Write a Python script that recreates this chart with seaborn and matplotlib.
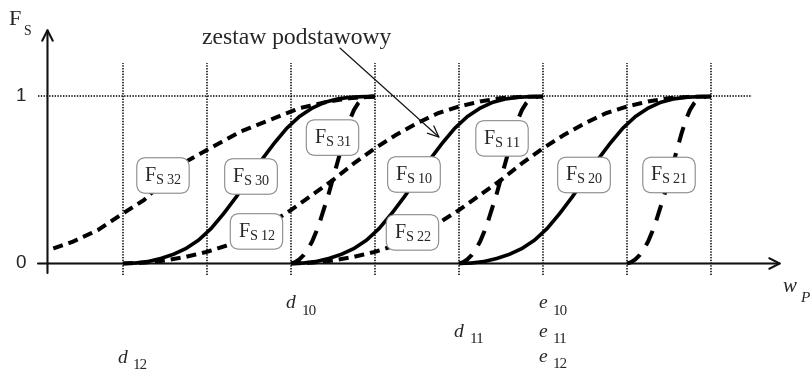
import matplotlib
matplotlib.use("Agg")
import matplotlib.pyplot as plt
import matplotlib.transforms as mtransforms
import numpy as np
import pandas as pd
import seaborn as sns

# ---------------------------------------------------------------- data
# dotted reference lines on the w_P axis
grid_x = [1, 2, 3, 4, 5, 6, 7, 8]

# shape of the distribution curves as a fraction t of their interval [d, e]
profile_t = [0.00, 0.05, 0.10, 0.15, 0.20, 0.25, 0.30, 0.35, 0.40, 0.45, 0.50,
             0.55, 0.60, 0.65, 0.70, 0.75, 0.80, 0.85, 0.90, 0.95, 1.00]
solid_y = [0.000, 0.003, 0.012, 0.030, 0.055, 0.090, 0.140, 0.210, 0.300, 0.400, 0.510,
           0.620, 0.720, 0.810, 0.880, 0.930, 0.965, 0.985, 0.995, 0.999, 1.000]
short_y = [0.000, 0.005, 0.018, 0.040, 0.070, 0.110, 0.170, 0.240, 0.320, 0.410, 0.500,
           0.600, 0.690, 0.770, 0.840, 0.900, 0.940, 0.970, 0.990, 0.998, 1.000]
long_y = [0.000, 0.008, 0.025, 0.050, 0.085, 0.130, 0.190, 0.260, 0.340, 0.420, 0.510,
          0.600, 0.690, 0.780, 0.860, 0.920, 0.960, 0.985, 0.995, 0.999, 1.000]

# solid curves: F_S30, F_S10, F_S20
solid_names = ["F_S30", "F_S10", "F_S20"]
solid_d = [1, 3, 5]
solid_e = [4, 6, 8]
# long-dash curves: F_S31, F_S11, F_S21
long_names = ["F_S31", "F_S11", "F_S21"]
long_d = [3, 5, 7]
long_e = [4, 6, 8]
# short-dash curves: F_S12, F_S22
short_names = ["F_S12", "F_S22"]
short_d = [1, 3]
short_e = [6, 8]
# F_S32 starts outside the drawn range
fs32_w = [0.17, 0.40, 0.70, 1.00, 1.25, 1.50, 1.75, 2.00, 2.40, 2.80, 3.10, 3.45, 3.70, 4.00]
fs32_f = [0.09, 0.13, 0.20, 0.30, 0.38, 0.50, 0.61, 0.68, 0.79, 0.87, 0.93, 0.97, 0.99, 1.00]

# curve labels
curve_labels = ["F_S32", "F_S30", "F_S12", "F_S31", "F_S10", "F_S22", "F_S11", "F_S20", "F_S21"]
y_ticks = [0, 1]


def family_frame(names, d, e, prof):
    rows = []
    for n, a, b in zip(names, d, e):
        for t, f in zip(profile_t, prof):
            rows.append((n, a + t * (b - a), f))
    return pd.DataFrame(rows, columns=["name", "w", "F"])


solid_df = family_frame(solid_names, solid_d, solid_e, solid_y)
long_df = family_frame(long_names, long_d, long_e, long_y)
short_df = pd.concat([
    family_frame(short_names, short_d, short_e, short_y),
    pd.DataFrame({"name": "F_S32", "w": fs32_w, "F": fs32_f}),
], ignore_index=True)

# ---------------------------------------------------------------- style
sns.set_style("white")
plt.rcParams["lines.scale_dashes"] = False
plt.rcParams["mathtext.fontset"] = "custom"
plt.rcParams["mathtext.rm"] = "Liberation Serif"
plt.rcParams["mathtext.it"] = "Liberation Serif:italic"
plt.rcParams["font.family"] = ["Liberation Serif", "DejaVu Sans"]

fig = plt.figure(figsize=(8.12, 3.72), dpi=100)
ax = fig.add_axes([0, 0, 1, 1])

dot = (0, (1.0, 1.0))

# dotted grid
for g in grid_x:
    ax.plot([g, g], [-0.069, 1.201], color="black", lw=1.1, linestyle=dot, zorder=1)
ax.plot([-0.012, 8.488], [1, 1], color="black", lw=1.1, linestyle=dot, zorder=1)

# axes with arrows
arrow = dict(arrowstyle="->,head_length=0.75,head_width=0.38", lw=1.5, color="#111111",
             shrinkA=0, shrinkB=0, mutation_scale=10)
ax.annotate("", xy=(8.845, 0), xytext=(-0.012, 0), arrowprops=arrow, zorder=2)
ax.annotate("", xy=(0.101, 1.41), xytext=(0.101, -0.057), arrowprops=arrow, zorder=2)

# distribution curves
sns.lineplot(data=solid_df, x="w", y="F", units="name", estimator=None, sort=False,
             color="black", lw=2.6, solid_capstyle="butt", legend=False, ax=ax, zorder=3)
sns.lineplot(data=short_df, x="w", y="F", units="name", estimator=None, sort=False,
             color="black", lw=2.9, linestyle=(0, (7.2, 4.3)), dash_capstyle="butt",
             legend=False, ax=ax, zorder=3)
sns.lineplot(data=long_df, x="w", y="F", units="name", estimator=None, sort=False,
             color="black", lw=2.9, linestyle=(0, (11.5, 8.0)), dash_capstyle="butt",
             legend=False, ax=ax, zorder=3)
ax.set_xlim(-0.4643, 9.2024)
ax.set_ylim(-0.6497, 1.5778)
ax.axis("off")

# curve labels in rounded boxes
label_pos = [(1.476, 0.527), (2.524, 0.521), (2.589, 0.192), (3.494, 0.754), (4.464, 0.533),
             (4.446, 0.186), (5.512, 0.749), (6.488, 0.530), (7.500, 0.530)]
for lab, (x, y) in zip(curve_labels, label_pos):
    idx = lab.split("_S")[1]
    ax.text(x, y, r"$\mathrm{F}_{\mathrm{S\ %s}}$" % idx, fontsize=14.5, ha="center", va="center",
            zorder=5,
            bbox=dict(boxstyle="round,pad=0.36,rounding_size=0.45", fc="white", ec="#8a8a8a", lw=0.8))


def sub_text(x, y, main, sub, dx, dy, size=14, sub_size=10.8, italic_main=True, italic_sub=False):
    ax.text(x, y, main, fontsize=size, style="italic" if italic_main else "normal",
            family="Liberation Serif", ha="left", va="baseline", zorder=6)
    tr = mtransforms.offset_copy(ax.transData, fig=fig, x=dx, y=dy, units="dots")
    ax.text(x, y, sub, fontsize=sub_size, style="italic" if italic_sub else "normal",
            family="Liberation Serif", ha="left", va="baseline", transform=tr, zorder=6)


# axis titles
sub_text(-0.369, 1.428, "F", "S", 15, -10, size=16, sub_size=10, italic_main=False)
sub_text(8.857, -0.171, "w", "P", 17, -10, size=15, sub_size=11, italic_sub=True)

# y tick labels
for v in y_ticks:
    ax.text(-0.22, v, str(v), fontsize=13.5, family="Liberation Sans", ha="center", va="center")

# interval bounds on the w_P axis
sub_text(2.929, -0.266, "d", "10", 17, -7)
sub_text(4.929, -0.440, "d", "11", 17, -6)
sub_text(0.929, -0.596, "d", "12", 16, -6)
sub_text(5.940, -0.266, "e", "10", 15, -7)
sub_text(5.940, -0.440, "e", "11", 15, -6)
sub_text(5.940, -0.590, "e", "12", 15, -6)

# annotation of the base set
ax.text(3.071, 1.314, "zestaw podstawowy", fontsize=17, family="Liberation Serif",
        ha="center", va="baseline", zorder=6)
ax.annotate("", xy=(4.774, 0.751), xytext=(3.583, 1.290),
            arrowprops=dict(arrowstyle="->,head_length=0.8,head_width=0.35", lw=0.9,
                            color="#111111", shrinkA=0, shrinkB=0, mutation_scale=10),
            zorder=6)

fig.savefig("out.png", dpi=100)
